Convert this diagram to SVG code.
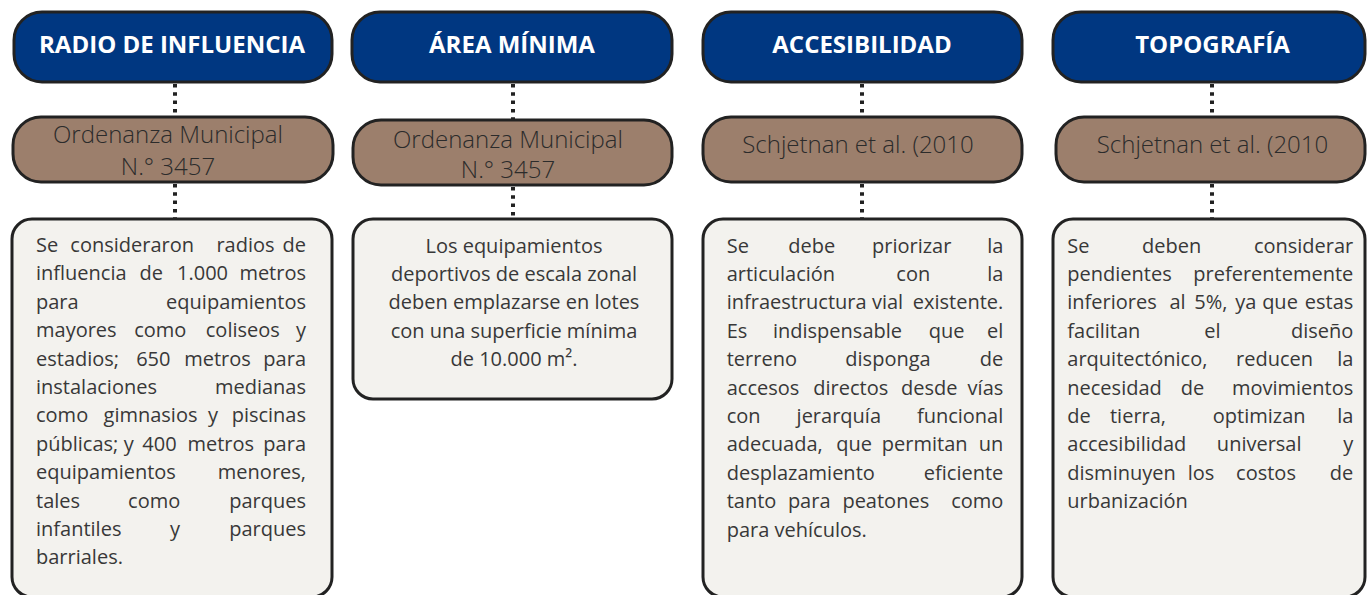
<svg xmlns="http://www.w3.org/2000/svg" width="1367" height="595" viewBox="0 0 1367 595">
<style>
.hdr{fill:#003781;stroke:#222;stroke-width:3}
.src{fill:#9C7F6C;stroke:#222;stroke-width:3}
.box{fill:#F3F2EE;stroke:#222;stroke-width:3}
.ht{font-family:"Open Sans","Liberation Sans",sans-serif;font-weight:700;font-size:24px;fill:#fff;text-anchor:middle}
.st{font-family:"Open Sans","Liberation Sans",sans-serif;font-weight:300;font-size:24px;fill:#2b2b2b;text-anchor:middle}
.bt{font-family:"Open Sans","Liberation Sans",sans-serif;font-weight:400;font-size:20px;fill:#383838}
.c{text-anchor:middle}
.s{text-anchor:start}
.m{text-anchor:middle}
.e{text-anchor:end}
.dot{stroke:#222;stroke-width:4;stroke-dasharray:3.5 4.8;fill:none}
</style>
<g id="connectors">
<line class="dot" x1="175" y1="84" x2="175" y2="116"/>
<line class="dot" x1="175" y1="184" x2="175" y2="218"/>
<line class="dot" x1="513" y1="84" x2="513" y2="119"/>
<line class="dot" x1="513" y1="187" x2="513" y2="218"/>
<line class="dot" x1="862" y1="84" x2="862" y2="116"/>
<line class="dot" x1="862" y1="184" x2="862" y2="218"/>
<line class="dot" x1="1212" y1="84" x2="1212" y2="116"/>
<line class="dot" x1="1212" y1="184" x2="1212" y2="218"/>
</g>
<g id="h1"><rect class="hdr" x="14" y="12" width="318" height="70" rx="28"/><text class="ht" x="172" y="53">RADIO DE INFLUENCIA</text></g>
<g id="h2"><rect class="hdr" x="352" y="12" width="320" height="70" rx="28"/><text class="ht" x="512" y="53">ÁREA MÍNIMA</text></g>
<g id="h3"><rect class="hdr" x="703" y="12" width="319" height="70" rx="28"/><text class="ht" x="862" y="53">ACCESIBILIDAD</text></g>
<g id="h4"><rect class="hdr" x="1053" y="12" width="312" height="70" rx="28"/><text class="ht" x="1212.5" y="53">TOPOGRAFÍA</text></g>

<g id="s1"><rect class="src" x="13" y="117" width="320" height="65" rx="28"/><text class="st" x="168" y="143">Ordenanza Municipal</text><text class="st" x="168" y="175">N.° 3457</text></g>
<g id="s2"><rect class="src" x="353" y="120" width="319" height="65" rx="28"/><text class="st" x="508" y="147.5">Ordenanza Municipal</text><text class="st" x="508" y="178.3">N.° 3457</text></g>
<g id="s3"><rect class="src" x="703" y="117" width="319" height="65" rx="28"/><text class="st" x="858" y="153">Schjetnan et al. (2010</text></g>
<g id="s4"><rect class="src" x="1056" y="117" width="309" height="65" rx="28"/><text class="st" x="1212.5" y="153">Schjetnan et al. (2010</text></g>

<g id="b1"><rect class="box" x="12" y="219" width="320" height="378" rx="20"/>
<text class="bt" y="252"><tspan class="s" x="36">Se</tspan><tspan class="m" x="132.2">consideraron</tspan><tspan class="m" x="245.5">radios</tspan><tspan class="e" x="306">de</tspan></text>
<text class="bt" y="280.4"><tspan class="s" x="36">influencia</tspan><tspan class="m" x="151.2">de</tspan><tspan class="m" x="202.5">1.000</tspan><tspan class="e" x="306">metros</tspan></text>
<text class="bt" y="308.8"><tspan class="s" x="36">para</tspan><tspan class="e" x="306">equipamientos</tspan></text>
<text class="bt" y="337.2"><tspan class="s" x="36">mayores</tspan><tspan class="m" x="160.3">como</tspan><tspan class="m" x="242.8">coliseos</tspan><tspan class="e" x="306">y</tspan></text>
<text class="bt" y="365.6"><tspan class="s" x="36">estadios;</tspan><tspan class="m" x="153.3">650</tspan><tspan class="m" x="217.5">metros</tspan><tspan class="e" x="306">para</tspan></text>
<text class="bt" y="394"><tspan class="s" x="36">instalaciones</tspan><tspan class="e" x="306">medianas</tspan></text>
<text class="bt" y="422.4"><tspan class="s" x="36">como</tspan><tspan class="m" x="150.5">gimnasios</tspan><tspan class="m" x="213">y</tspan><tspan class="e" x="306">piscinas</tspan></text>
<text class="bt" y="450.8"><tspan class="s" x="36">públicas;</tspan><tspan class="m" x="128.7">y</tspan><tspan class="m" x="159.5">400</tspan><tspan class="m" x="220.8">metros</tspan><tspan class="e" x="306">para</tspan></text>
<text class="bt" y="479.2"><tspan class="s" x="36">equipamientos</tspan><tspan class="e" x="306">menores,</tspan></text>
<text class="bt" y="507.6"><tspan class="s" x="36">tales</tspan><tspan class="m" x="154.2">como</tspan><tspan class="e" x="306">parques</tspan></text>
<text class="bt" y="536"><tspan class="s" x="36">infantiles</tspan><tspan class="m" x="175">y</tspan><tspan class="e" x="306">parques</tspan></text>
<text class="bt" y="564.4"><tspan class="s" x="36">barriales.</tspan></text>
</g>

<g id="b2"><rect class="box" x="353" y="219" width="319" height="180" rx="20"/>
<text class="bt c" x="514" y="252.5">Los equipamientos</text>
<text class="bt c" x="514" y="281">deportivos de escala zonal</text>
<text class="bt c" x="514" y="309.3">deben emplazarse en lotes</text>
<text class="bt c" x="514" y="337.7">con una superficie mínima</text>
<text class="bt c" x="514" y="366">de 10.000 m².</text>
</g>

<g id="b3"><rect class="box" x="703" y="219" width="319" height="378" rx="20"/>
<text class="bt" y="252.5"><tspan class="s" x="726.7">Se</tspan><tspan class="m" x="811.7">debe</tspan><tspan class="m" x="911.7">priorizar</tspan><tspan class="e" x="1003.3">la</tspan></text>
<text class="bt" y="280.9"><tspan class="s" x="726.7">articulación</tspan><tspan class="m" x="913.3">con</tspan><tspan class="e" x="1003.3">la</tspan></text>
<text class="bt" y="309.3"><tspan class="s" x="726.7">infraestructura</tspan><tspan class="m" x="887.5">vial</tspan><tspan class="e" x="1003.3">existente.</tspan></text>
<text class="bt" y="337.7"><tspan class="s" x="726.7">Es</tspan><tspan class="m" x="837.5">indispensable</tspan><tspan class="m" x="946.7">que</tspan><tspan class="e" x="1003.3">el</tspan></text>
<text class="bt" y="366.1"><tspan class="s" x="726.7">terreno</tspan><tspan class="m" x="888">disponga</tspan><tspan class="e" x="1003.3">de</tspan></text>
<text class="bt" y="394.5"><tspan class="s" x="726.7">accesos</tspan><tspan class="m" x="850.8">directos</tspan><tspan class="m" x="929.2">desde</tspan><tspan class="e" x="1003.3">vías</tspan></text>
<text class="bt" y="422.9"><tspan class="s" x="726.7">con</tspan><tspan class="m" x="838.8">jerarquía</tspan><tspan class="e" x="1003.3">funcional</tspan></text>
<text class="bt" y="451.3"><tspan class="s" x="726.7">adecuada,</tspan><tspan class="m" x="854.2">que</tspan><tspan class="m" x="924.7">permitan</tspan><tspan class="e" x="1003.3">un</tspan></text>
<text class="bt" y="479.7"><tspan class="s" x="726.7">desplazamiento</tspan><tspan class="e" x="1003.3">eficiente</tspan></text>
<text class="bt" y="508.1"><tspan class="s" x="726.7">tanto</tspan><tspan class="m" x="809.2">para</tspan><tspan class="m" x="885.8">peatones</tspan><tspan class="e" x="1003.3">como</tspan></text>
<text class="bt" y="536.5"><tspan class="s" x="726.7">para vehículos.</tspan></text>
</g>

<g id="b4"><rect class="box" x="1053" y="219" width="312" height="378" rx="20"/>
<text class="bt" y="252.5"><tspan class="s" x="1067.3">Se</tspan><tspan class="m" x="1171.7">deben</tspan><tspan class="e" x="1353.3">considerar</tspan></text>
<text class="bt" y="280.9"><tspan class="s" x="1067.3">pendientes</tspan><tspan class="e" x="1353.3">preferentemente</tspan></text>
<text class="bt" y="309.3"><tspan class="s" x="1067.3">inferiores</tspan><tspan class="m" x="1177.5">al</tspan><tspan class="m" x="1210.8">5%,</tspan><tspan class="m" x="1245.8">ya</tspan><tspan class="m" x="1280">que</tspan><tspan class="e" x="1353.3">estas</tspan></text>
<text class="bt" y="337.7"><tspan class="s" x="1067.3">facilitan</tspan><tspan class="m" x="1212.5">el</tspan><tspan class="e" x="1353.3">diseño</tspan></text>
<text class="bt" y="366.1"><tspan class="s" x="1067.3">arquitectónico,</tspan><tspan class="m" x="1274.5">reducen</tspan><tspan class="e" x="1353.3">la</tspan></text>
<text class="bt" y="394.5"><tspan class="s" x="1067.3">necesidad</tspan><tspan class="m" x="1192.5">de</tspan><tspan class="e" x="1353.3">movimientos</tspan></text>
<text class="bt" y="422.9"><tspan class="s" x="1067.3">de</tspan><tspan class="m" x="1138">tierra,</tspan><tspan class="m" x="1259.2">optimizan</tspan><tspan class="e" x="1353.3">la</tspan></text>
<text class="bt" y="451.3"><tspan class="s" x="1067.3">accesibilidad</tspan><tspan class="m" x="1259.2">universal</tspan><tspan class="e" x="1353.3">y</tspan></text>
<text class="bt" y="479.7"><tspan class="s" x="1067.3">disminuyen</tspan><tspan class="m" x="1201">los</tspan><tspan class="m" x="1266">costos</tspan><tspan class="e" x="1353.3">de</tspan></text>
<text class="bt" y="508.1"><tspan class="s" x="1067.3">urbanización</tspan></text>
</g>
</svg>
